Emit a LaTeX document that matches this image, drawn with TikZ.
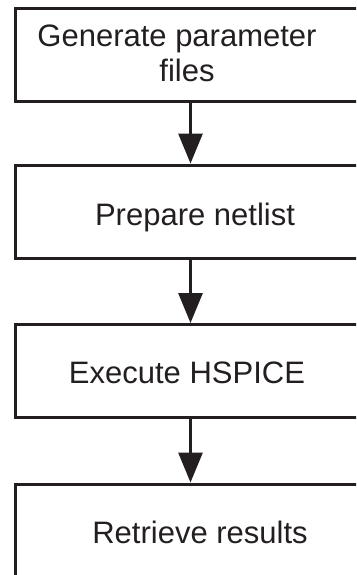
\documentclass[tikz,border=0pt]{standalone}
\usepackage{fontspec}
\setmainfont{Liberation Sans}
\usetikzlibrary{arrows.meta}
\definecolor{ink}{HTML}{231F20}
\begin{document}
\begin{tikzpicture}[x=1pt,y=1pt,
  stepbox/.style={draw=ink, line width=3pt, minimum width=351pt, minimum height=93pt,
    inner sep=0pt},
  steptext/.style={anchor=base, inner sep=0pt, text=ink, font=\fontsize{31}{35}\selectfont},
  flow/.style={draw=ink, line width=3pt, -{Triangle[width=24pt,length=30pt]}}]
  \useasboundingbox (0,0) rectangle (356,-575);
  \clip (0,0) rectangle (356,-575);
  \fill[white] (0,0) rectangle (356,-575);
  % process boxes
  \node[stepbox] (gen) at (190.5,-55) {};
  \node[stepbox] (prep) at (190.5,-211.5) {};
  \node[stepbox] (exec) at (190.5,-371) {};
  \node[stepbox] (ret) at (190.5,-530.5) {};
  % box captions
  \node[steptext] (genA) at (177,-47) {Generate parameter};
  \node[steptext] (genB) at (187,-82) {files};
  \node[steptext] (prepT) at (195,-225) {Prepare netlist};
  \node[steptext] (execT) at (187,-383) {Execute HSPICE};
  \node[steptext] (retT) at (200,-543) {Retrieve results};
  % flow arrows
  \draw[flow] (gen.south) -- (prep.north);
  \draw[flow] (prep.south) -- (exec.north);
  \draw[flow] (exec.south) -- (ret.north);
\end{tikzpicture}
\end{document}
